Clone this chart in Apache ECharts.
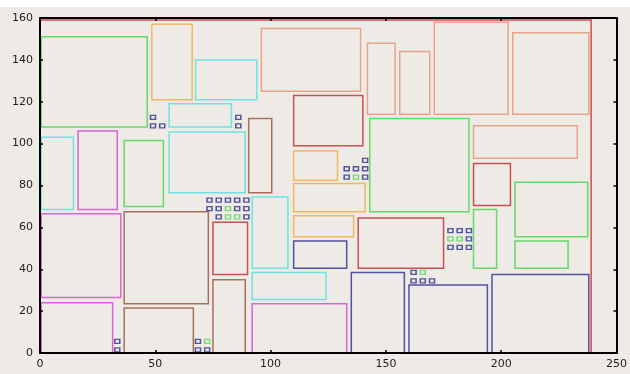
<!DOCTYPE html>
<html>
<head>
<meta charset="utf-8">
<script src="https://cdn.jsdelivr.net/npm/echarts@6/dist/echarts.min.js"></script>
<style>
html,body{margin:0;padding:0;background:#eeebe6;}
#c{width:630px;height:374px;}
</style>
</head>
<body>
<div id="c"></div>
<script>
// Tick labels
const xTicks = [0, 50, 100, 150, 200, 250];
const yTicks = [0, 20, 40, 60, 80, 100, 120, 140, 160];

// Rectangles: [x1, y1, x2, y2]
const redRects = [
  [0, 0, 239, 159],
  [110, 99, 140, 123],
  [75, 37.5, 90, 62.5],
  [188, 70.5, 204, 90.5],
  [138, 40.5, 175, 64.5]
];
const greenRects = [
  [0.5, 108, 46.5, 151],
  [36.5, 70, 53.5, 101.5],
  [143, 67.5, 186, 112],
  [206, 55.5, 237.5, 81.5],
  [188, 40.5, 198, 68.5],
  [206, 40.5, 229, 53.5]
];
const orangeRects = [
  [48.5, 121, 66, 157],
  [110, 82.5, 129, 96.5],
  [110, 67.5, 141, 81],
  [110, 55.5, 136, 65.5]
];
const cyanRects = [
  [67.5, 121, 94, 140],
  [56, 108, 83, 119],
  [56, 76.5, 89, 105.5],
  [0.5, 68.5, 14.5, 103],
  [92, 25.5, 124, 38.5],
  [92, 40.5, 107.5, 74.5]
];
const salmonRects = [
  [96, 125, 139, 155],
  [142, 114, 154, 148],
  [156, 114, 169, 144],
  [171, 114, 203, 158],
  [205, 114, 238, 153],
  [188, 93, 233, 108.5]
];
const brownRects = [
  [90.5, 76.5, 100.5, 112],
  [75, 0, 89, 35],
  [36.5, 23.5, 73, 67.5],
  [36.5, 0, 66.5, 21.5]
];
const magentaRects = [
  [16.5, 68.5, 33.5, 106],
  [92, 0, 133, 23.5],
  [0.5, 26.5, 35, 66.5],
  [0.5, 0, 31.5, 24]
];
const navyRects = [
  [110, 40.5, 133, 53.5],
  [135, 0, 158, 38.5],
  [160, 0, 194, 32.5],
  [196, 0, 238, 37.5]
];

// Small square markers: [x, y]
const navyPoints = [
  [49, 112.5], [49, 108.5], [53, 108.5], [86, 112.5], [86, 108.5],
  [33.5, 5.5], [33.5, 1.5],
  [68.5, 5.5], [68.5, 1.5], [72.5, 1.5],
  [73.5, 73], [77.5, 73], [81.5, 73], [85.5, 73], [89.5, 73],
  [73.5, 69], [77.5, 69], [85.5, 69], [89.5, 69],
  [77.5, 65], [89.5, 65],
  [141, 92], [133, 88], [137, 88], [141, 88], [133, 84], [141, 84],
  [178, 58.5], [182, 58.5], [186, 58.5], [186, 54.5],
  [178, 50.5], [182, 50.5], [186, 50.5],
  [162, 38.5], [162, 34.5], [166, 34.5], [170, 34.5]
];
const greenPoints = [
  [72.5, 5.5],
  [81.5, 69], [81.5, 65], [85.5, 65],
  [137, 84],
  [178, 54.5], [182, 54.5],
  [166, 38.5]
];

function rectSeries(data, color) {
  return {
    type: 'custom',
    xAxisIndex: 0, yAxisIndex: 0,
    z: 2,
    clip: false,
    data: data,
    encode: { x: [0, 2], y: [1, 3] },
    renderItem: function (params, api) {
      const p1 = api.coord([api.value(0), api.value(1)]);
      const p2 = api.coord([api.value(2), api.value(3)]);
      return {
        type: 'rect',
        shape: {
          x: Math.min(p1[0], p2[0]),
          y: Math.min(p1[1], p2[1]),
          width: Math.abs(p2[0] - p1[0]),
          height: Math.abs(p2[1] - p1[1])
        },
        style: { fill: null, stroke: color, lineWidth: 1.5 }
      };
    },
    silent: true
  };
}

function pointSeries(data, color) {
  return {
    type: 'scatter',
    xAxisIndex: 0, yAxisIndex: 0,
    z: 3,
    data: data,
    symbol: 'rect',
    symbolSize: [5, 4],
    itemStyle: { color: 'rgba(0,0,0,0)', borderColor: color, borderWidth: 1.4 },
    silent: true
  };
}

const axisCommon = {
  axisLine: { show: true, onZero: false, lineStyle: { color: '#000', width: 2 } },
  axisTick: { show: true, inside: true, length: 3, lineStyle: { color: '#000', width: 1.5 } },
  splitLine: { show: false },
  z: 10
};

const chart = echarts.init(document.getElementById('c'), null, { renderer: 'canvas' });
chart.setOption({
  backgroundColor: '#eeebe6',
  animation: false,
  graphic: [{ type: 'rect', left: 0, top: 0, shape: { width: 630, height: 7 }, style: { fill: '#ffffff' }, z: -1 }],
  grid: { left: 40, right: 11, top: 18, bottom: 21 },
  xAxis: [
    Object.assign({}, axisCommon, {
      type: 'value', position: 'bottom', min: xTicks[0], max: xTicks[xTicks.length - 1], interval: 50,
      axisLabel: { color: '#222', fontSize: 11, fontFamily: 'DejaVu Sans', margin: 6 }
    }),
    Object.assign({}, axisCommon, {
      type: 'value', position: 'top', min: xTicks[0], max: xTicks[xTicks.length - 1], interval: 50,
      axisLabel: { show: false }
    })
  ],
  yAxis: [
    Object.assign({}, axisCommon, {
      type: 'value', position: 'left', min: yTicks[0], max: yTicks[yTicks.length - 1], interval: 20,
      axisLabel: { color: '#222', fontSize: 11, fontFamily: 'DejaVu Sans', margin: 7 }
    }),
    Object.assign({}, axisCommon, {
      type: 'value', position: 'right', min: yTicks[0], max: yTicks[yTicks.length - 1], interval: 20,
      axisLabel: { show: false }
    })
  ],
  series: [
    rectSeries(redRects, '#c85050'),
    rectSeries(salmonRects, '#e8a488'),
    rectSeries(orangeRects, '#f2b860'),
    rectSeries(cyanRects, '#6fe3e3'),
    rectSeries(greenRects, '#66d866'),
    rectSeries(brownRects, '#a8705c'),
    rectSeries(magentaRects, '#d862d8'),
    rectSeries(navyRects, '#5252a2'),
    pointSeries(navyPoints, '#2e2e8c'),
    pointSeries(greenPoints, '#5cd85c')
  ]
});
</script>
</body>
</html>
